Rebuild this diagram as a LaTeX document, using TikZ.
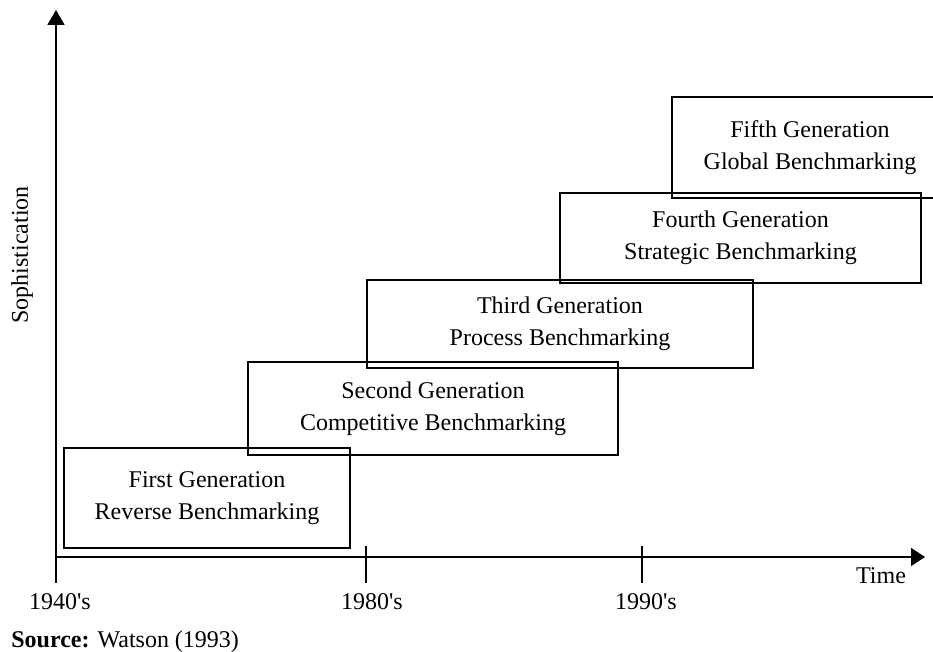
\documentclass[tikz,border=0pt]{standalone}
\usepackage{fontspec}
\setmainfont{Liberation Serif}
\usetikzlibrary{arrows.meta}
\begin{document}
\begin{tikzpicture}[x=0.5pt,y=-0.5pt,
  genbox/.style={draw=black,line width=0.75pt,inner sep=0pt,align=center,
    font=\fontsize{12}{16}\selectfont},
  axis/.style={draw=black,line width=0.75pt},
  lbl/.style={font=\fontsize{12}{14}\selectfont,inner sep=0pt}]
\useasboundingbox (0,0) rectangle (933,652);
\clip (0,0) rectangle (933,652);
% axes
\coordinate (o) at (56,557);
\coordinate (ybot) at (56,583);
\coordinate (ytop) at (56,10);
\coordinate (xend) at (925,557);
\coordinate (t1a) at (366,546);
\coordinate (t1b) at (366,583);
\coordinate (t2a) at (642,546);
\coordinate (t2b) at (642,583);
\draw[axis,-{Triangle[length=7.5pt,width=8.5pt]}] (ybot) -- (ytop);
\draw[axis,-{Triangle[length=7pt,width=9pt]}] (o) -- (xend);
\draw[axis] (t1a) -- (t1b);
\draw[axis] (t2a) -- (t2b);
% boxes
\node[genbox,minimum width=143pt,minimum height=50pt] (g1) at (207,498)
  {First Generation\\Reverse Benchmarking};
\node[genbox,minimum width=185pt,minimum height=46.5pt] (g2) at (433,408.5)
  {Second Generation\\Competitive Benchmarking};
\node[genbox,minimum width=193pt,minimum height=44pt] (g3) at (560,324)
  {Third Generation\\Process Benchmarking};
\node[genbox,minimum width=180.5pt,minimum height=45pt] (g4) at (740.5,238)
  {Fourth Generation\\Strategic Benchmarking};
\node[genbox,minimum width=138pt,minimum height=50.5pt] (g5) at (810,147.5)
  {Fifth Generation\\Global Benchmarking};
% labels
\node[lbl,anchor=base] (l1940) at (60,610) {1940\textquotesingle s};
\node[lbl,anchor=base] (l1980) at (372,610) {1980\textquotesingle s};
\node[lbl,anchor=base] (l1990) at (646,610) {1990\textquotesingle s};
\node[lbl,anchor=base] (ltime) at (881,583) {Time};
\node[lbl,rotate=90] (lsoph) at (22,255) {Sophistication};
\node[lbl,anchor=base west] (lsrc) at (11,647) {\textbf{Source:} Watson (1993)};
\end{tikzpicture}
\end{document}
